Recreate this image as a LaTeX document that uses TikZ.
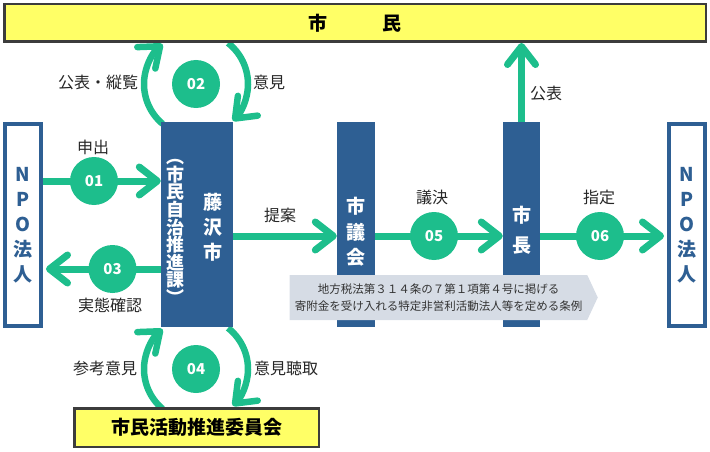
\documentclass[tikz,border=0pt]{standalone}
\usepackage{fontspec}
\setmainfont{Noto Sans CJK JP}
\usepackage{xcolor}
\usepackage{tikz}
\usetikzlibrary{positioning, arrows.meta, shapes.symbols}

\definecolor{sGreen}{HTML}{1DBE8C}
\definecolor{cityBlue}{HTML}{2E5F93}
\definecolor{citizenYellow}{HTML}{FFFF66}
\definecolor{edgeGrey}{HTML}{3C3C3C}
\definecolor{lawGrey}{HTML}{D6DCE5}

\pgfdeclarelayer{bg}
\pgfsetlayers{bg,main}

\begin{document}
\begin{tikzpicture}[x=1pt, y=1pt,
    bar/.style={fill=cityBlue, minimum height=205pt, inner sep=0pt},
    npo/.style={draw=cityBlue, line width=4pt, fill=white, minimum width=36pt, minimum height=202pt, inner sep=0pt, align=center, text=cityBlue, font=\bfseries\fontsize{19}{25}\selectfont},
    yelbox/.style={draw=edgeGrey, line width=2.5pt, fill=citizenYellow, font=\bfseries\fontsize{19}{22}\selectfont},
    vtxt/.style={text=white, align=center, inner sep=0pt},
    num/.style={circle, fill=sGreen, minimum size=48pt, inner sep=0pt, text=white, font=\bfseries\fontsize{15}{15}\selectfont},
    lbl/.style={text=black!85, font=\fontsize{16}{16}\selectfont},
    flow/.style={draw=sGreen, line width=7pt, -{Straight Barb[length=18pt, width=28pt, round]}},
    loopflow/.style={flow, line width=6.5pt}
]
    \useasboundingbox (0,0) rectangle (710,451);

    % boxes
    \node[yelbox, minimum width=701.5pt, minimum height=37.5pt] (citizens) at (355,428) {市\hspace{55pt}民};
    \node[npo] (npoL) at (23,226) {N\\P\\O\\法\\人};
    \node[npo] (npoR) at (687,226) {N\\P\\O\\法\\人};
    \node[bar, minimum width=72pt] (fuji) at (197,226.5) {};
    \node[bar, minimum width=38pt] (gikai) at (356,226.5) {};
    \node[bar, minimum width=37pt] (mayor) at (521.5,226.5) {};
    \node[vtxt, font=\bfseries\fontsize{19}{25}\selectfont] (fujiName) at (213,224) {藤\\沢\\市};
    \node[vtxt, font=\bfseries\fontsize{18}{17.6}\selectfont] (fujiDept) at (175,219) {︵\\市\\民\\自\\治\\推\\進\\課\\︶};
    \node[vtxt, font=\bfseries\fontsize{19}{25.5}\selectfont] (gikaiName) at (356,219) {市\\議\\会};
    \node[vtxt, font=\bfseries\fontsize{19}{30}\selectfont] (mayorName) at (521.5,221) {市\\長};
    \node[signal, signal to=east, signal pointer angle=130, fill=lawGrey, minimum width=308pt, minimum height=45pt, inner sep=0pt, align=center, text=black!80, font=\fontsize{11.5}{17}\selectfont] (law) at (438.5,153.5) {地方税法第３１４条の７第１項第４号に掲げる\\寄附金を受け入れる特定非営利活動法人等を定める条例};
    \node[yelbox, minimum width=244.5pt, minimum height=38.5pt] (committee) at (196.5,23.5) {市民活動推進委員会};

    % steps
    \node[num] (c01) at (94,270) {01};
    \node[num] (c02) at (196,367) {02};
    \node[num] (c03) at (112.5,182) {03};
    \node[num] (c04) at (196,82) {04};
    \node[num] (c05) at (434,215) {05};
    \node[num] (c06) at (600,215) {06};

    \node[lbl] (lShinshutsu) at (93,304) {申出};
    \node[lbl] (lJittai) at (110,146) {実態確認};
    \node[lbl] (lTeian) at (280,236) {提案};
    \node[lbl] (lGiketsu) at (432,254) {議決};
    \node[lbl] (lShitei) at (599,254) {指定};
    \node[lbl] (lKohyo) at (546,358) {公表};
    \node[lbl] (lJuran) at (98,369) {公表・縦覧};
    \node[lbl] (lIken) at (269,369) {意見};
    \node[lbl] (lSanko) at (105,83) {参考意見};
    \node[lbl] (lChoshu) at (286,83) {意見聴取};

    \begin{pgfonlayer}{bg}
    \draw[flow] (npoL.east |- c01) -- (fuji.west |- c01);
    \draw[flow, shorten >=3pt] (fuji.west |- c03) -- (npoL.east |- c03);
    \draw[flow] (fuji.east |- c05) -- (gikai.west |- c05);
    \draw[flow] (gikai.east |- c05) -- (mayor.west |- c05);
    \draw[flow, shorten >=3pt] (mayor.east |- c06) -- (npoR.west |- c06);
    \draw[flow] (mayor.north) -- (mayor.north |- citizens.south);
    % loops
    \draw[loopflow] (c02) ++(230:52) arc[start angle=230, end angle=130, radius=52];
    \draw[loopflow] (c02) ++(52:52) arc[start angle=52, end angle=-45, radius=52];
    \draw[loopflow] (c04) ++(230:52) arc[start angle=230, end angle=130, radius=52];
    \draw[loopflow] (c04) ++(52:52) arc[start angle=52, end angle=-45, radius=52];
    \end{pgfonlayer}
\end{tikzpicture}
\end{document}
